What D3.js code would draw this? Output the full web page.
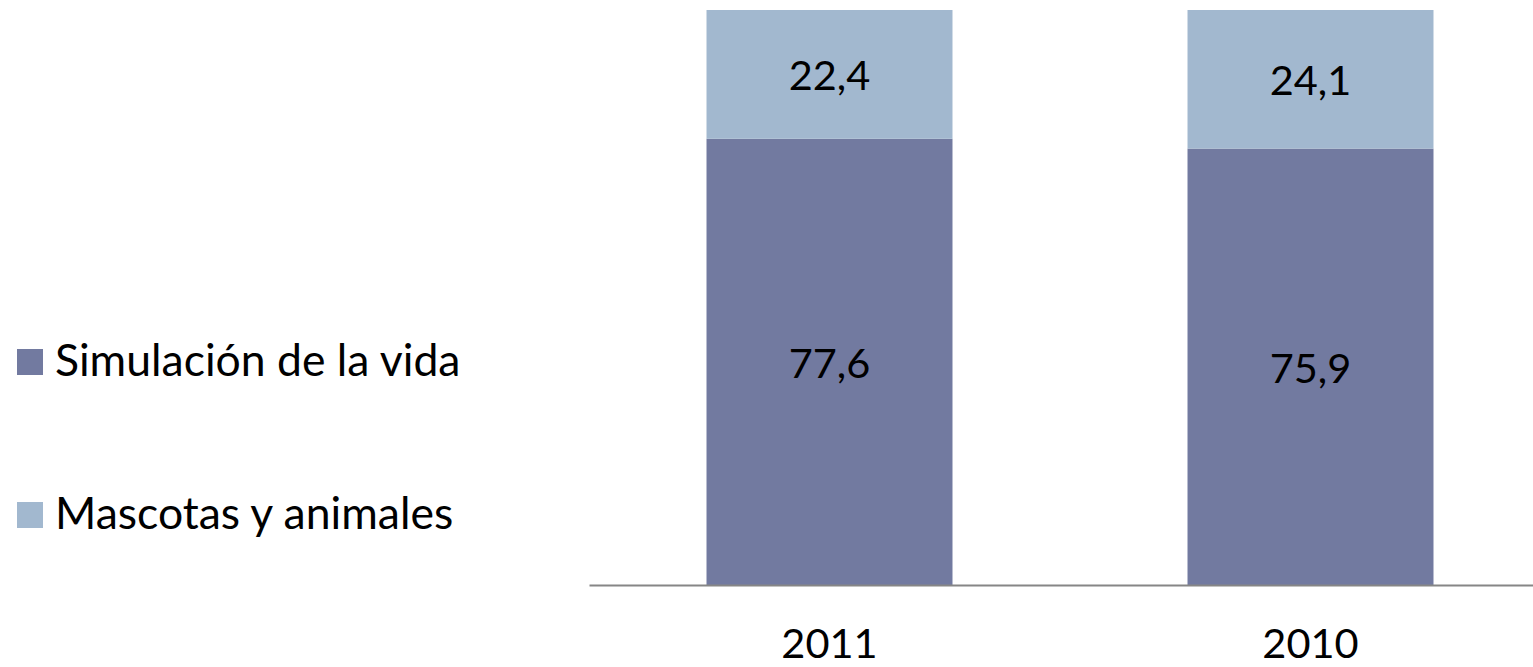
<!DOCTYPE html>
<html>
<head>
<meta charset="utf-8">
<script src="https://cdn.jsdelivr.net/npm/d3@7"></script>
<style>
  html, body { margin: 0; padding: 0; background: #fff; }
  svg { display: block; }
  text { font-family: Lato, "Open Sans", sans-serif; fill: #000; }
</style>
</head>
<body>
<svg id="chart" width="1533" height="667"></svg>
<script>
// Years shown on the category axis
const years = ["2011", "2010"];
// Series names (legend order, top to bottom)
const seriesNames = ["Simulación de la vida", "Mascotas y animales"];
// Share (%) per year for each series
const simulacion = [77.6, 75.9];
const mascotas = [22.4, 24.1];
const seriesColors = ["#727AA0", "#A2B8CF"];

const fmt = v => v.toFixed(1).replace(".", ",");

const svg = d3.select("#chart");
const fontSize = 41.5;
const legendFontSize = 44.5;

const x = d3.scaleBand()
  .domain(years)
  .range([589, 1551])
  .paddingInner(0.4886)
  .paddingOuter(0.2443);

const y = d3.scaleLinear()
  .domain([0, 100])
  .range([585, 10]);

// Stack the two series per year
const rows = years.map((yr, i) => ({ year: yr, s0: simulacion[i], s1: mascotas[i] }));
const stacked = d3.stack().keys(["s0", "s1"])(rows);

const layers = svg.append("g").selectAll("g")
  .data(stacked)
  .join("g")
  .attr("fill", (d, i) => seriesColors[i]);

layers.selectAll("rect")
  .data(d => d)
  .join("rect")
  .attr("x", d => x(d.data.year))
  .attr("width", x.bandwidth())
  .attr("y", d => y(d[1]))
  .attr("height", d => y(d[0]) - y(d[1]));

// Value labels centred inside each segment
layers.selectAll("text")
  .data(d => d.map(p => ({ p, key: d.key })))
  .join("text")
  .attr("x", d => x(d.p.data.year) + x.bandwidth() / 2)
  .attr("y", d => (y(d.p[0]) + y(d.p[1])) / 2)
  .attr("dy", "0.38em")
  .attr("text-anchor", "middle")
  .style("font-size", fontSize + "px")
  .text(d => fmt(d.p.data[d.key]));

// Category axis
const xAxis = svg.append("g")
  .attr("transform", `translate(0,${y(0)})`)
  .call(d3.axisBottom(x).tickSize(0).tickPadding(0));
xAxis.select(".domain")
  .attr("stroke", "#868686")
  .attr("stroke-width", 2);
xAxis.selectAll(".tick text")
  .attr("y", 73)
  .attr("dy", 0)
  .attr("fill", "#000")
  .style("font-family", "Lato, 'Open Sans', sans-serif")
  .style("font-size", fontSize + "px");

// Legend
const legend = svg.append("g");
const legendY = [349, 502];
const legendItems = legend.selectAll("g")
  .data(seriesNames)
  .join("g")
  .attr("transform", (d, i) => `translate(17,${legendY[i]})`);
legendItems.append("rect")
  .attr("width", 26)
  .attr("height", 26)
  .attr("fill", (d, i) => seriesColors[i]);
legendItems.append("text")
  .attr("x", 38)
  .attr("y", 27)
  .style("font-size", legendFontSize + "px")
  .text(d => d);
</script>
</body>
</html>
